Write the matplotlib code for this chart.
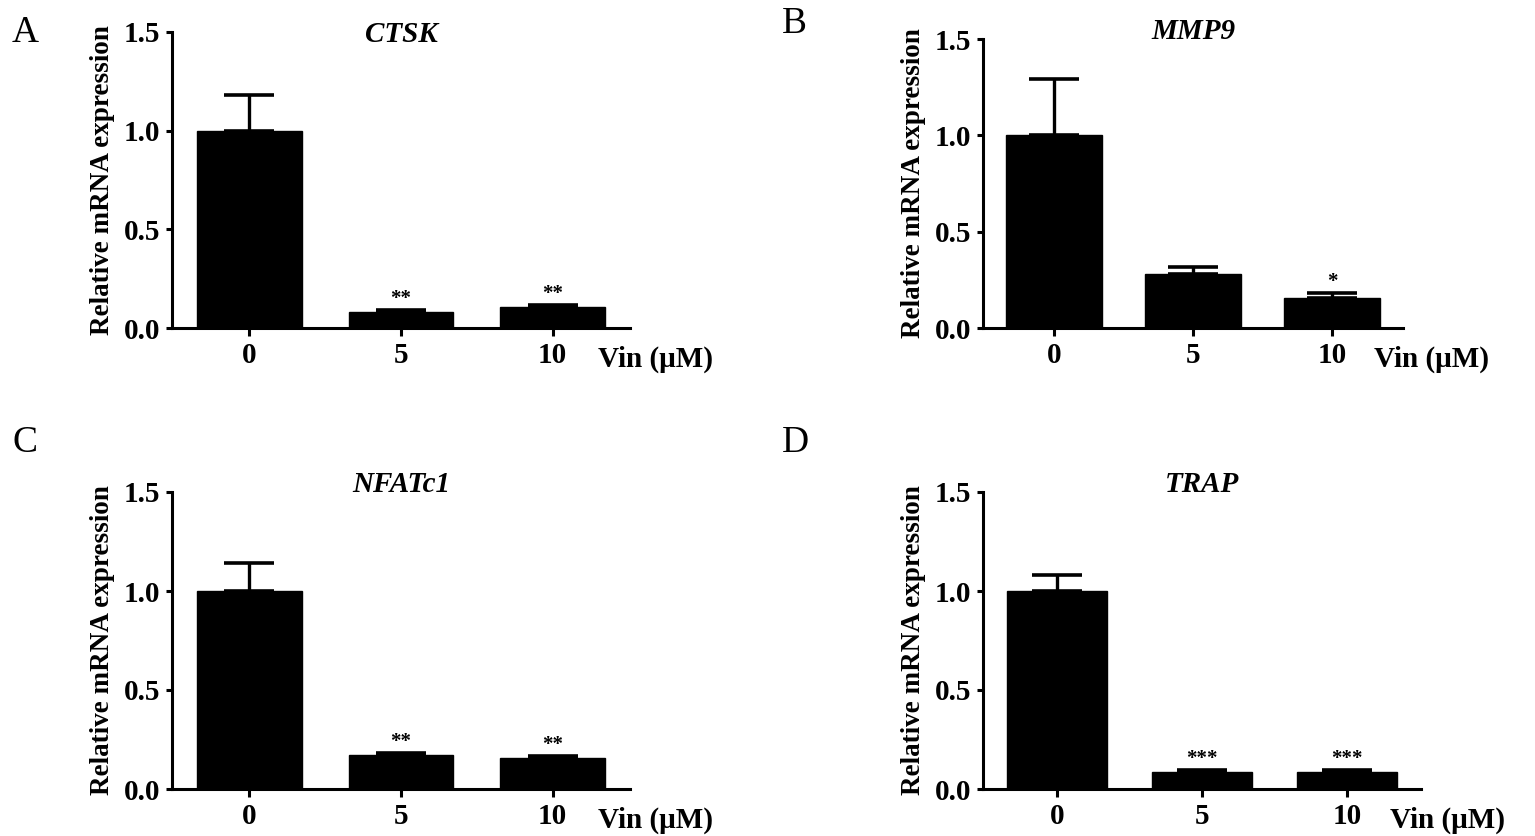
import matplotlib
matplotlib.use("Agg")
import matplotlib.pyplot as plt
import numpy as np

plt.rcParams['font.family'] = ['Liberation Serif', 'DejaVu Serif']

categories = ["0", "5", "10"]
genes = ["CTSK", "MMP9", "NFATc1", "TRAP"]
panel_letters = ["A", "B", "C", "D"]

ctsk_mean = [1.0, 0.08, 0.105]
ctsk_sem = [0.18, 0.01, 0.01]
ctsk_sig = ["", "**", "**"]

mmp9_mean = [1.0, 0.28, 0.155]
mmp9_sem = [0.29, 0.035, 0.025]
mmp9_sig = ["", "", "*"]

nfatc1_mean = [1.0, 0.17, 0.155]
nfatc1_sem = [0.14, 0.01, 0.01]
nfatc1_sig = ["", "**", "**"]

trap_mean = [1.0, 0.085, 0.085]
trap_sem = [0.08, 0.01, 0.01]
trap_sig = ["", "***", "***"]

yticks = [0.0, 0.5, 1.0, 1.5]
ytick_labels = ["0.0", "0.5", "1.0", "1.5"]
ylabel = "Relative mRNA expression"
xunit = "Vin (\u03bcM)"

means = [ctsk_mean, mmp9_mean, nfatc1_mean, trap_mean]
sems = [ctsk_sem, mmp9_sem, nfatc1_sem, trap_sem]
sigs = [ctsk_sig, mmp9_sig, nfatc1_sig, trap_sig]

W, H = 1535, 836
fig = plt.figure(figsize=(W / 100, H / 100), dpi=100)

# axes boxes in pixels: left, right, y of 0, y of 1.5
boxes = [(172, 630, 328, 32), (983, 1403, 328, 39),
         (172, 630, 789, 492), (983, 1421, 789, 492)]
title_y = [0.965, 1.0, 1.0, 1.0]
letter_pos = [(12, 42), (782, 33), (12, 452), (782, 452)]

for i in range(4):
    l, r, b, t = boxes[i]
    ax = fig.add_axes([l / W, 1 - b / H, (r - l) / W, (b - t) / H])
    x = np.arange(len(categories))
    ax.errorbar(x, means[i], yerr=[np.zeros(3), sems[i]], fmt='none',
                ecolor='black', elinewidth=2.4, capsize=18, capthick=2.6,
                zorder=1)
    ax.bar(x, means[i], width=0.69, color='black', edgecolor='black',
           zorder=2)
    for j in range(3):
        if sigs[i][j]:
            ax.annotate(sigs[i][j], xy=(x[j], means[i][j] + sems[i][j]),
                        xytext=(0, 1), textcoords='offset points',
                        ha='center', va='bottom', fontsize=15,
                        fontweight='bold')
    ax.set_xlim(-0.51, 2.51)
    ax.set_ylim(0, 1.5)
    ax.set_xticks(x)
    ax.set_xticklabels(categories, fontsize=21, fontweight='bold')
    ax.set_yticks(yticks)
    ax.set_yticklabels(ytick_labels, fontsize=21, fontweight='bold')
    ax.spines['top'].set_visible(False)
    ax.spines['right'].set_visible(False)
    for s in ['left', 'bottom']:
        ax.spines[s].set_linewidth(2.2)
    ax.tick_params(axis='y', direction='out', length=4.5, width=2.2, pad=4)
    ax.tick_params(axis='x', direction='out', length=6, width=2.2, pad=4)
    ax.set_ylabel(ylabel, fontsize=19.5, fontweight='bold', labelpad=6)
    ax.text(0.5, title_y[i], genes[i], transform=ax.transAxes,
            ha='center', va='baseline', fontsize=21, fontweight='bold',
            fontstyle='italic')
    ax.annotate(xunit, xy=(0.93, 0), xycoords='axes fraction',
                xytext=(0, -28), textcoords='offset points',
                ha='left', va='baseline', fontsize=21, fontweight='bold',
                annotation_clip=False)
    lx, ly = letter_pos[i]
    fig.text(lx / W, 1 - ly / H, panel_letters[i], fontsize=27,
             ha='left', va='baseline')

fig.savefig("out.png", dpi=100)
